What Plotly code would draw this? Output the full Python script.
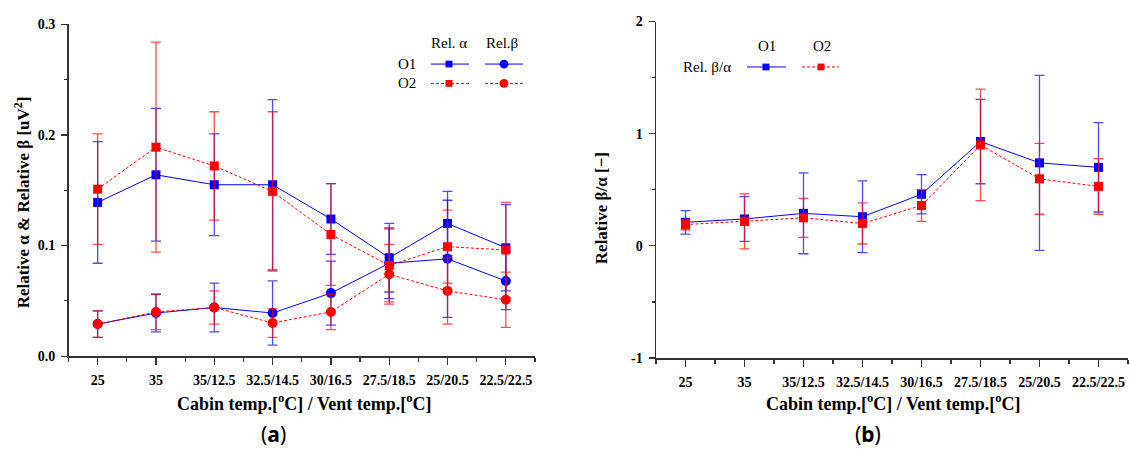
import plotly.graph_objects as go

# ---------------- data ----------------
categories = ["25", "35", "35/12.5", "32.5/14.5", "30/16.5", "27.5/18.5", "25/20.5", "22.5/22.5"]

# panel (a): Relative alpha / Relative beta [uV^2]
o1_alpha = [0.139, 0.164, 0.155, 0.155, 0.124, 0.089, 0.120, 0.098]
o1_alpha_err = [0.055, 0.060, 0.046, 0.077, 0.032, 0.031, 0.029, 0.039]
o2_alpha = [0.151, 0.189, 0.172, 0.149, 0.110, 0.082, 0.099, 0.096]
o2_alpha_err = [0.050, 0.095, 0.049, 0.072, 0.046, 0.033, 0.033, 0.043]
o1_beta = [0.029, 0.039, 0.044, 0.039, 0.057, 0.084, 0.088, 0.068]
o1_beta_err = [0.012, 0.017, 0.022, 0.029, 0.029, 0.032, 0.053, 0.026]
o2_beta = [0.029, 0.040, 0.044, 0.030, 0.040, 0.074, 0.059, 0.051]
o2_beta_err = [0.012, 0.016, 0.015, 0.013, 0.016, 0.027, 0.030, 0.025]

# panel (b): Relative beta/alpha [-]
o1_ratio = [0.21, 0.24, 0.29, 0.26, 0.46, 0.93, 0.74, 0.70]
o1_ratio_err = [0.105, 0.20, 0.36, 0.32, 0.175, 0.376, 0.78, 0.398]
o2_ratio = [0.19, 0.218, 0.25, 0.20, 0.36, 0.90, 0.598, 0.53]
o2_ratio_err = [0.046, 0.245, 0.174, 0.183, 0.141, 0.497, 0.316, 0.248]

# tick labels
ya_ticks = [0.0, 0.1, 0.2, 0.3]
ya_ticktext = ["0.0", "0.1", "0.2", "0.3"]
yb_ticks = [-1, 0, 1, 2]
yb_ticktext = ["-1", "0", "1", "2"]

x_idx = list(range(len(categories)))

BLUE = "#0000ff"
RED = "#ff0000"
BLUE_E = "rgba(0,0,255,0.7)"
RED_E = "rgba(255,0,0,0.7)"
DASH = "3px,2px"
W, H = 1130, 457
SERIF = "Liberation Serif, Times New Roman, Times, serif"


def px(x):
    return x / W


def py(y):
    return 1 - y / H


def bold(lst):
    return ["<b>%s</b>" % s for s in lst]


def series(y, err, xa, ya, color, ecolor, symbol, dash, size):
    return go.Scatter(
        x=x_idx, y=y, xaxis=xa, yaxis=ya, mode="lines+markers",
        line=dict(color=color, width=1, dash=dash),
        marker=dict(color=color, symbol=symbol, size=size),
        error_y=dict(type="data", array=err, visible=True, color=ecolor,
                     thickness=1.3, width=5),
        showlegend=False, cliponaxis=False, hoverinfo="skip",
    )


fig = go.Figure()
# panel (a)
fig.add_trace(series(o1_alpha, o1_alpha_err, "x", "y", BLUE, BLUE_E, "square", "solid", 9))
fig.add_trace(series(o1_beta, o1_beta_err, "x", "y", BLUE, BLUE_E, "circle", "solid", 10))
fig.add_trace(series(o2_alpha, o2_alpha_err, "x", "y", RED, RED_E, "square", DASH, 9))
fig.add_trace(series(o2_beta, o2_beta_err, "x", "y", RED, RED_E, "circle", DASH, 10))
# panel (b)
fig.add_trace(series(o1_ratio, o1_ratio_err, "x2", "y2", BLUE, BLUE_E, "square", "solid", 9))
fig.add_trace(series(o2_ratio, o2_ratio_err, "x2", "y2", RED, RED_E, "square", DASH, 9))

tickfont = dict(family=SERIF, size=14, color="black")
line_common = dict(showline=True, linecolor="#333333", linewidth=1.5, showgrid=False,
                   zeroline=False, tickcolor="#333333", tickwidth=1.2)
xminor = [i - 0.5 for i in range(len(categories) + 1)]

xa_dom = [px(68.5), px(535)]
xb_dom = [px(656), px(1128)]
ya_dom = [py(361), py(18)]
yb_dom = [py(363), py(15)]


def xaxis(domain, anchor):
    return dict(domain=domain, anchor=anchor, range=[-0.5, 7.5], tickmode="array",
                tickvals=x_idx, ticktext=bold(categories), ticks="outside", ticklen=7,
                tickfont=tickfont, ticklabelstandoff=4,
                minor=dict(tickmode="array", tickvals=xminor, ticks="outside", ticklen=4,
                           tickcolor="#333333", tickwidth=1.2),
                **line_common)


def yaxis(domain, anchor, rng, tv, tt, dt):
    return dict(domain=domain, anchor=anchor, range=rng, tickmode="array",
                tickvals=tv, ticktext=bold(tt), ticks="outside", ticklen=6,
                tickfont=tickfont, ticklabelstandoff=3,
                minor=dict(dtick=dt / 2, tick0=rng[0], ticks="outside", ticklen=3,
                           tickcolor="#333333", tickwidth=1.2),
                **line_common)


def top_axis(over, anchor):
    return dict(overlaying=over, anchor=anchor, side="top", range=[-0.5, 7.5],
                tickmode="array", tickvals=x_idx, ticks="inside", ticklen=5,
                showticklabels=False,
                minor=dict(tickmode="array", tickvals=xminor, ticks="inside", ticklen=3,
                           tickcolor="#333333", tickwidth=1.2),
                **line_common)


def right_axis(over, anchor, rng, dt):
    return dict(overlaying=over, anchor=anchor, side="right", range=rng,
                tickmode="linear", tick0=rng[0], dtick=dt, ticks="inside", ticklen=5,
                showticklabels=False,
                minor=dict(dtick=dt / 2, ticks="inside", ticklen=3,
                           tickcolor="#333333", tickwidth=1.2),
                **line_common)


fig.update_layout(
    width=W, height=H, margin=dict(l=0, r=0, t=0, b=0),
    paper_bgcolor="white", plot_bgcolor="white",
    font=dict(family=SERIF), hovermode=False,
    xaxis=xaxis(xa_dom, "y"),
    xaxis2=xaxis(xb_dom, "y2"),
    yaxis=yaxis(ya_dom, "x", [0, 0.3], ya_ticks, ya_ticktext, 0.1),
    yaxis2=yaxis(yb_dom, "x2", [-1, 2], yb_ticks, yb_ticktext, 1),
    xaxis3=top_axis("x", "y"),
    yaxis3=right_axis("y", "x", [0, 0.3], 0.1),
    xaxis4=top_axis("x2", "y2"),
    yaxis4=right_axis("y2", "x2", [-1, 2], 1),
)

ann = []


def text(x, y, s, size=15, family=SERIF, angle=0, **kw):
    ann.append(dict(x=px(x), y=py(y), xref="paper", yref="paper", text=s, showarrow=False,
                    font=dict(family=family, size=size, color="black"), textangle=angle,
                    xanchor="center", yanchor="middle", **kw))


# axis titles
xtitle = "<b>Cabin temp.[<sup>o</sup>C] / Vent temp.[<sup>o</sup>C]</b>"
text(304, 409, xtitle, size=18)
text(893, 409, xtitle, size=18)
text(22, 202, "<b>Relative α &amp; Relative β [uV<sup>2</sup>]</b>", size=17, angle=-90)
text(601, 208, "<b>Relative β/α [−]</b>", size=17, angle=-90)
# captions
text(273, 442, "(<b>a</b>)", size=21, family="Noto Sans")
text(868, 442, "(<b>b</b>)", size=21, family="Noto Sans")

# legend (a)
text(449, 37, "Rel. α")
text(502, 37, "Rel.β")
text(407, 59, "O1")
text(407, 79, "O2")
# legend (b)
text(767, 40, "O1")
text(822, 40, "O2")
text(707, 62, "Rel. β/α")

shapes = []


def leg_line(x0, x1, y, color, dash):
    shapes.append(dict(type="line", xref="paper", yref="paper", x0=px(x0), x1=px(x1),
                       y0=py(y), y1=py(y), line=dict(color=color, width=1, dash=dash)))


def leg_square(cx, cy, color, s=7):
    shapes.append(dict(type="rect", xref="paper", yref="paper", x0=px(cx - s / 2),
                       x1=px(cx + s / 2), y0=py(cy + s / 2), y1=py(cy - s / 2),
                       fillcolor=color, line=dict(width=0)))


def leg_circle(cx, cy, color, r=4.5):
    shapes.append(dict(type="circle", xref="paper", yref="paper", x0=px(cx - r),
                       x1=px(cx + r), y0=py(cy + r), y1=py(cy - r),
                       fillcolor=color, line=dict(width=0)))


leg_line(431, 469, 59, BLUE, "solid"); leg_square(449, 59, BLUE)
leg_line(485, 523, 59, BLUE, "solid"); leg_circle(504, 59, BLUE)
leg_line(431, 469, 79, RED, DASH); leg_square(449, 79, RED)
leg_line(485, 523, 79, RED, DASH); leg_circle(504, 79, RED)
leg_line(747, 786, 62, BLUE, "solid"); leg_square(766, 62, BLUE)
leg_line(802, 839, 62, RED, DASH); leg_square(821, 62, RED)

fig.update_layout(annotations=ann, shapes=shapes)
fig.write_html(
    "out.html",
    config={"displayModeBar": False, "staticPlot": True},
    post_script="document.body.style.margin='0';document.body.style.overflow='hidden';",
)
